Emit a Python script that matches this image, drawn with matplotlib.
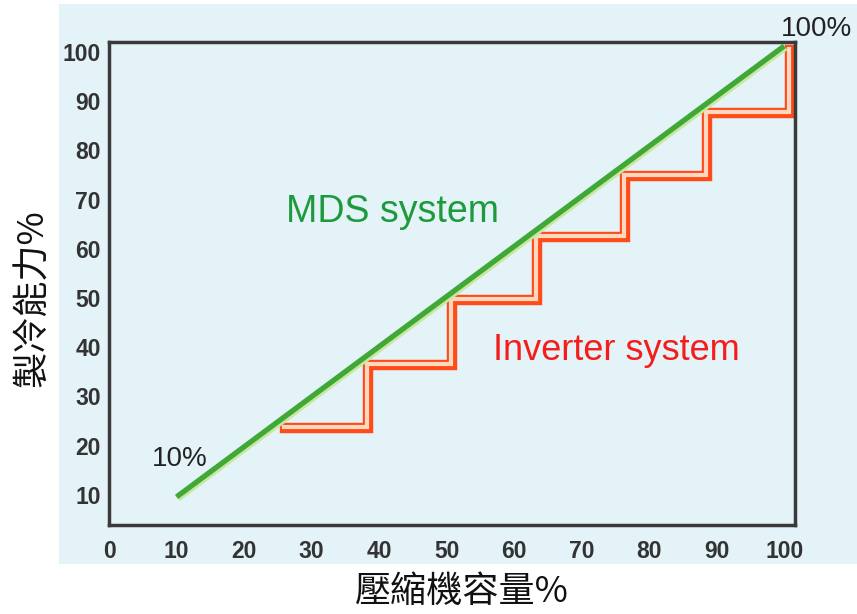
import matplotlib
matplotlib.use("Agg")
import matplotlib.pyplot as plt
import matplotlib.transforms as mtransforms
from matplotlib.patches import Rectangle

# axis ticks
x_ticks = [0, 10, 20, 30, 40, 50, 60, 70, 80, 90, 100]
y_ticks = [10, 20, 30, 40, 50, 60, 70, 80, 90, 100]

# MDS system: continuous line 10% -> 100%
mds_x = [10, 100]
mds_y = [9.6, 101.2]

# Inverter system: step capacity
step_x = [26, 38.3, 50.8, 63.4, 76.4, 88.5, 100.8]
step_y = [23.6, 36.4, 49.6, 62.4, 74.8, 87.6, 100.4]

fig = plt.figure(figsize=(8.57, 6.14), dpi=100)

# light blue panel behind the chart
fig.patches.append(Rectangle((0.0688, 0.0814), 0.9312, 0.9121,
                             transform=fig.transFigure, facecolor="#e3f3f8",
                             edgecolor="none", zorder=-10))

ax = fig.add_axes([0.1272, 0.1450, 0.8005, 0.7866])
ax.set_facecolor("#e3f3f8")
ax.set_xlim(0, 101.6)
ax.set_ylim(3.9, 102)

for s in ax.spines.values():
    s.set_linewidth(2.5)
    s.set_color("#3a3a3a")

ax.set_xticks(x_ticks)
ax.set_xticklabels([str(v) for v in x_ticks])
ax.set_yticks(y_ticks)
ax.set_yticklabels([str(v) for v in y_ticks])
ax.tick_params(length=0, labelsize=16.5, labelcolor="#333333")
ax.tick_params(axis="x", pad=11)
ax.tick_params(axis="y", pad=6)
for lbl in ax.get_xticklabels() + ax.get_yticklabels():
    lbl.set_fontfamily("Liberation Sans")
    lbl.set_fontweight("bold")

# inverter steps: red stroke with pale centre
ax.step(step_x, step_y, where="post", color="#ff4a1a", lw=7.5,
        solid_joinstyle="miter", solid_capstyle="projecting", zorder=2)
hl = mtransforms.offset_copy(ax.transData, fig=fig, x=-1, y=1, units="dots")
ax.step(step_x, step_y, where="post", color="#ffd9bf", lw=3,
        solid_joinstyle="miter", transform=hl, zorder=3)

# MDS line: dark green with light green shade
sh = mtransforms.offset_copy(ax.transData, fig=fig, x=2, y=-2.5, units="dots")
ax.plot(mds_x, mds_y, color="#c8e8a0", lw=3, transform=sh,
        solid_capstyle="butt", zorder=4)
ax.plot(mds_x, mds_y, color="#3fa836", lw=3.8, solid_capstyle="butt", zorder=5)

ax.text(42.0, 67.5, "MDS system", color="#1e9a3c", fontsize=27,
        family="Liberation Sans", ha="center", va="center")
ax.text(75.2, 39.3, "Inverter system", color="#f51c1c", fontsize=26,
        family="Liberation Sans", ha="center", va="center")
ax.text(10.5, 17.4, "10%", color="#222222", fontsize=20,
        family="Liberation Sans", ha="center", va="center")
ax.text(104.8, 104.6, "100%", color="#222222", fontsize=20,
        family="Liberation Sans", ha="center", va="center", clip_on=False)

fig.text(462 / 857, 1 - 592 / 614, "壓縮機容量%", fontsize=26,
         family=["Noto Sans CJK TC", "DejaVu Sans"], fontweight="light",
         ha="center", va="center", color="#111111")
fig.text(33 / 857, 1 - 298 / 614, "製冷能力%", fontsize=26, rotation=90,
         family=["Noto Sans CJK TC", "DejaVu Sans"], fontweight="light",
         ha="center", va="center", color="#111111")

fig.savefig("out.png", dpi=100)
plt.close(fig)
